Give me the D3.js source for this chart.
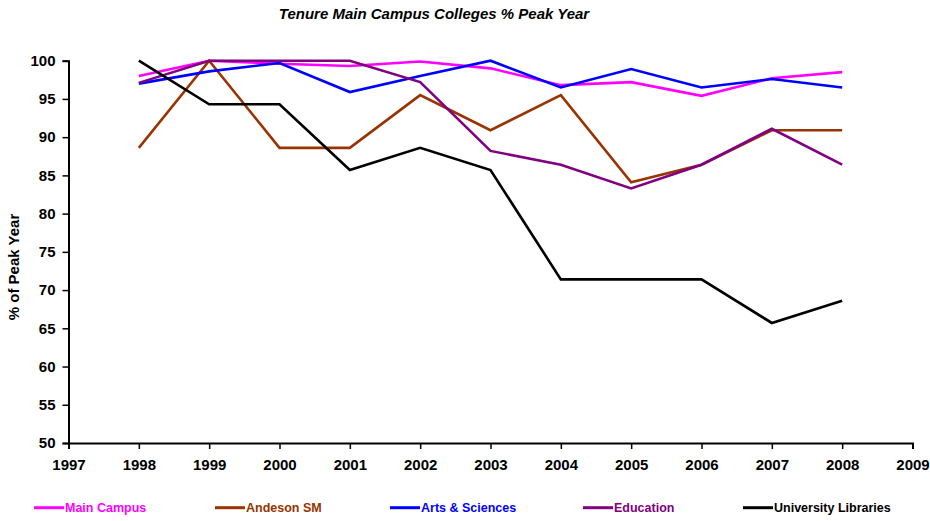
<!DOCTYPE html>
<html>
<head>
<meta charset="utf-8">
<script src="https://cdn.jsdelivr.net/npm/d3@7"></script>
<style>
  body { margin: 0; background: #fff; }
  text { font-family: Arial, "Liberation Sans", sans-serif; }
</style>
</head>
<body>
<div class="chart"></div>
<script>
// data
const years = [1998, 1999, 2000, 2001, 2002, 2003, 2004, 2005, 2006, 2007, 2008];
const seriesNames = ["Main Campus", "Andeson SM", "Arts & Sciences", "Education", "University Libraries"];
const seriesColors = ["#ff00ff", "#993300", "#0000ff", "#800080", "#000000"];
const mainCampus = [98.0, 100, 99.6, 99.3, 99.9, 99.0, 96.8, 97.2, 95.4, 97.7, 98.5];
const andesonSM = [88.6, 100, 88.6, 88.6, 95.5, 90.9, 95.5, 84.1, 86.4, 90.9, 90.9];
const artsSciences = [97.0, 98.6, 99.7, 95.9, 98.0, 100, 96.5, 98.9, 96.5, 97.6, 96.5];
const education = [97.1, 100, 100, 100, 97.2, 88.2, 86.4, 83.3, 86.4, 91.1, 86.4];
const libraries = [100, 94.3, 94.3, 85.7, 88.6, 85.7, 71.4, 71.4, 71.4, 65.7, 68.6];
const yTicks = [50, 55, 60, 65, 70, 75, 80, 85, 90, 95, 100];
const xTicks = [1997, 1998, 1999, 2000, 2001, 2002, 2003, 2004, 2005, 2006, 2007, 2008, 2009];

const allSeries = [mainCampus, andesonSM, artsSciences, education, libraries];

//measurements
const w = 930;
const h = 521;
const plotLeft = 68.5;
const plotRight = 912.5;
const plotTop = 60.7;
const plotBottom = 443;

const xScale = d3.scaleLinear().domain([1997, 2009]).range([plotLeft, plotRight]);
const yScale = d3.scaleLinear().domain([50, 100]).range([plotBottom, plotTop]);

const svg = d3.select(".chart").append("svg").attr("width", w).attr("height", h);

// title
svg.append("text")
  .attr("x", 434)
  .attr("y", 19)
  .attr("text-anchor", "middle")
  .style("font-size", "15px")
  .style("font-weight", "bold")
  .style("font-style", "italic")
  .text("Tenure Main Campus Colleges % Peak Year");

// axes
const xAxis = d3.axisBottom(xScale).tickValues(xTicks).tickFormat(d3.format("d")).tickSizeOuter(0).tickSize(6).tickPadding(10);
const yAxis = d3.axisLeft(yScale).tickValues(yTicks).tickSizeOuter(0).tickSize(6).tickPadding(7);

const gx = svg.append("g").attr("transform", "translate(0," + plotBottom + ")").call(xAxis);
const gy = svg.append("g").attr("transform", "translate(" + plotLeft + ",0)").call(yAxis);

[gx, gy].forEach(function (g) {
  g.select(".domain").attr("stroke", "#000").attr("stroke-width", 2);
  g.selectAll(".tick line").attr("stroke", "#000").attr("stroke-width", 1.5);
  g.selectAll(".tick text")
    .attr("fill", "#000")
    .style("font-size", "15px")
    .style("font-weight", "bold")
    .style("font-family", "Arial, 'Liberation Sans', sans-serif");
});

// y axis title
svg.append("text")
  .attr("transform", "translate(19,267) rotate(-90)")
  .attr("text-anchor", "middle")
  .style("font-size", "15px")
  .style("font-weight", "bold")
  .text("% of Peak Year");

// lines
const line = d3.line()
  .x(function (d, i) { return xScale(years[i]); })
  .y(function (d) { return yScale(d); });

svg.selectAll(".series")
  .data(allSeries)
  .enter()
  .append("path")
  .attr("class", "series")
  .attr("d", line)
  .attr("fill", "none")
  .attr("stroke", function (d, i) { return seriesColors[i]; })
  .attr("stroke-width", 2.6)
  .attr("stroke-linejoin", "miter");

// legend
const legendX = [34, 215, 390, 583, 743];
const legendY = 507.7;
const legend = svg.append("g").attr("id", "legend");

seriesNames.forEach(function (name, i) {
  legend.append("line")
    .attr("x1", legendX[i])
    .attr("x2", legendX[i] + 30)
    .attr("y1", legendY)
    .attr("y2", legendY)
    .attr("stroke", seriesColors[i])
    .attr("stroke-width", 3);
  legend.append("text")
    .attr("x", legendX[i] + 31)
    .attr("y", legendY)
    .attr("dy", "0.35em")
    .attr("fill", seriesColors[i])
    .style("font-size", "12.5px")
    .style("font-weight", "bold")
    .text(name);
});
</script>
</body>
</html>
